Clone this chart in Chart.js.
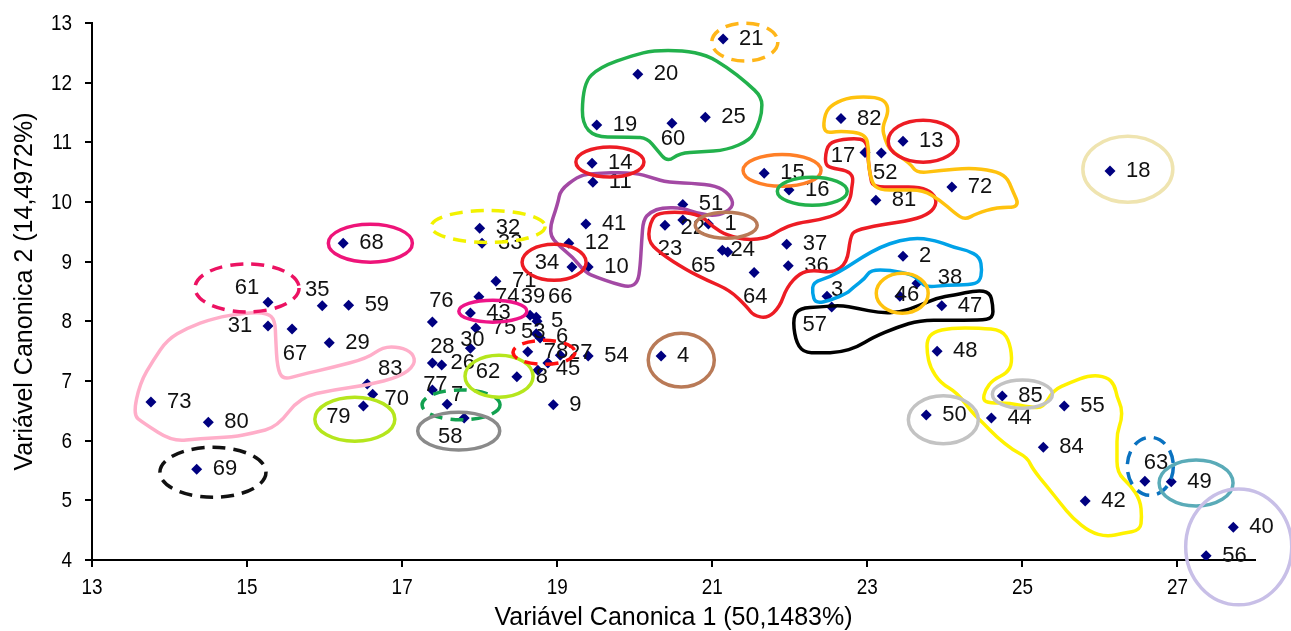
<!DOCTYPE html>
<html>
<head>
<meta charset="utf-8">
<script src="https://cdn.jsdelivr.net/npm/chart.js@4.4.1/dist/chart.umd.min.js"></script>
<style>
  html, body { margin: 0; padding: 0; background: #ffffff; }
  #wrap { width: 1291px; height: 631px; }
</style>
</head>
<body>
<div id="wrap"><canvas id="chart" width="1291" height="631"></canvas></div>
<script>
// Genotype numbers and their scores on the first two canonical variables
const ids = [1,2,3,4,5,6,7,8,9,10,11,12,13,14,15,16,17,18,19,20,21,22,23,24,25,26,27,28,29,30,
  31,32,33,34,35,36,37,38,39,40,41,42,43,44,45,46,47,48,49,50,51,52,53,54,55,56,57,58,59,60,
  61,62,63,64,65,66,67,68,69,70,71,72,73,74,75,76,77,78,79,80,81,82,83,84,85];
const canon1 = [20.95,23.46,22.48,20.34,18.74,18.78,17.58,18.75,18.95,19.40,
  19.46,19.15,23.46,19.45,21.67,21.99,22.97,26.13,19.51,20.04,
  21.14,20.62,20.39,21.20,20.91,17.51,19.04,17.39,16.06,17.88,
  15.27,18.00,18.03,19.19,15.97,21.98,21.96,23.64,18.65,27.72,
  19.37,25.81,17.88,24.60,18.88,23.42,23.96,23.90,26.92,23.76,
  20.62,23.18,18.73,19.40,25.54,27.37,22.54,17.80,16.31,20.48,
  15.27,18.48,26.58,21.54,21.13,18.73,15.58,16.24,14.35,16.62,
  18.21,24.09,13.76,17.99,17.95,17.39,17.39,18.62,16.50,14.50,
  23.11,22.66,16.55,25.27,24.74];
const canon2 = [9.63,9.09,8.42,7.42,8.00,7.72,6.61,7.18,6.60,8.91,
  10.33,9.31,11.02,10.65,10.48,10.20,10.83,10.52,11.29,12.14,
  12.73,9.70,9.61,9.16,11.42,7.27,7.43,7.30,7.64,7.55,
  7.92,9.56,9.31,8.91,8.26,8.93,9.29,8.64,8.10,4.55,
  9.63,4.99,8.14,6.38,7.30,8.42,8.26,7.50,5.31,6.43,
  9.96,10.82,7.79,7.42,6.58,4.07,8.24,6.38,8.27,11.32,
  8.32,7.07,5.32,8.82,9.19,8.07,7.87,9.31,5.52,6.78,
  8.67,10.25,6.65,8.41,7.89,7.99,6.85,7.49,6.58,6.31,
  10.03,11.40,6.95,5.89,6.75];

const xTicks = [13, 15, 17, 19, 21, 23, 25, 27];
const yTicks = [4, 5, 6, 7, 8, 9, 10, 11, 12, 13];
const xTitle = 'Variável Canonica 1 (50,1483%)';
const yTitle = 'Variável Canonica 2 (14,4972%)';

// Labels that sit away from the usual spot right of the marker: centre offset in px
const labelShift = {
  61:[-21,-14], 35:[-5,-16], 31:[-28,0], 67:[3,25], 83:[23,-15], 70:[24,5], 79:[-25,11],
  76:[9,-21], 34:[-25,-4], 60:[1,16], 22:[10,8], 23:[5,24], 65:[-19,16], 24:[15,-2],
  64:[1,25], 17:[-22,3], 52:[4,20], 3:[10,-6], 57:[-17,18], 46:[7,-1], 38:[33,-5],
  63:[11,-18], 39:[3,-18], 66:[24,-20], 5:[20,0], 53:[-3,-2], 6:[22,-1],
  28:[10,-16], 30:[2,-8], 26:[21,-2], 77:[3,-5], 7:[10,-9], 58:[-14,19], 62:[-29,-5],
  8:[4,7], 45:[20,6], 27:[20,-2]
};

// Grouping outlines, in axis units: ellipses [cx, cy, rx, ry]
const groupEllipses = [
  { c:[18.11,9.59,0.735,0.268], color:'#f2f200', dash:true },   // 32
  { c:[16.59,9.31,0.542,0.318], color:'#ee1479' },             // 68
  { c:[15.00,8.56,0.671,0.402], color:'#ec1262', dash:true },   // 61
  { c:[14.56,5.47,0.684,0.419], color:'#111111', dash:true },   // 69
  { c:[16.39,6.36,0.516,0.369], color:'#b5e61d' },             // 79
  { c:[17.76,6.60,0.503,0.251], color:'#12a150', dash:true },   // 7
  { c:[17.73,6.16,0.529,0.318], color:'#8a8a8a' },             // 58
  { c:[18.25,7.08,0.439,0.352], color:'#b5e61d' },             // 62
  { c:[18.17,8.17,0.439,0.184], color:'#ee1488' },             // 43
  { c:[18.96,8.99,0.413,0.302], color:'#ed1c24' },             // 34
  { c:[18.83,7.48,0.400,0.201], color:'#ff1010', dash:true },   // 78
  { c:[20.60,7.35,0.426,0.452], color:'#b97a57' },             // 4
  { c:[21.42,12.68,0.426,0.318], color:'#ffb619', dash:true },  // 21
  { c:[19.68,10.67,0.439,0.251], color:'#ed1c24' },            // 14
  { c:[21.18,9.61,0.400,0.218], color:'#b97a57' },             // 1
  { c:[21.90,10.53,0.503,0.268], color:'#ff7f27' },            // 15
  { c:[22.29,10.18,0.451,0.235], color:'#22b14c' },            // 16
  { c:[23.72,11.02,0.451,0.352], color:'#ed1c24' },            // 13
  { c:[26.36,10.55,0.580,0.553], color:'#efe4b0' },            // 18
  { c:[23.45,8.47,0.335,0.335], color:'#ffc20e' },             // 46
  { c:[25.00,6.78,0.387,0.235], color:'#c3c3c3' },             // 85
  { c:[23.98,6.35,0.451,0.402], color:'#c3c3c3' },             // 50
  { c:[26.65,5.57,0.297,0.486], color:'#0a72c0', dash:true },   // 63
  { c:[27.24,5.29,0.477,0.385], color:'#5aabb8' },             // 49
  { c:[27.79,4.22,0.684,0.972], color:'#c8bfe7' }              // 40, 56
];

// Free-hand outlines, in axis units
const pinkOutline = [[15.00,8.15],[14.56,8.05],[14.23,7.89],[13.97,7.69],[13.79,7.35],[13.62,6.97],
  [13.53,6.43],[13.66,6.30],[14.04,5.98],[14.39,6.04],[14.82,6.06],[15.08,6.13],[15.39,6.23],
  [15.68,6.73],[16.11,6.85],[16.55,6.93],[16.97,7.07],[17.17,7.27],[17.14,7.47],[16.97,7.57],
  [16.75,7.57],[16.55,7.38],[16.11,7.23],[15.68,7.10],[15.46,7.02],[15.39,7.23],[15.37,7.69],
  [15.36,8.02],[15.26,8.14]];
const greenOutline = [[19.32,11.09],[19.33,11.99],[19.55,12.26],[19.98,12.46],[20.24,12.54],
  [20.62,12.54],[20.93,12.46],[21.19,12.26],[21.45,11.99],[21.64,11.76],[21.64,11.49],
  [21.58,11.25],[21.49,11.04],[21.19,10.87],[20.84,10.84],[20.58,10.82],[20.42,10.67],
  [20.29,10.87],[20.16,11.07],[19.98,11.09]];
const purpleOutline = [[18.88,9.48],[19.01,9.98],[19.04,10.20],[19.26,10.42],[19.42,10.48],
  [19.98,10.50],[20.24,10.40],[20.42,10.33],[20.84,10.31],[21.10,10.25],[21.25,10.08],
  [21.27,9.90],[21.06,9.76],[20.80,9.81],[20.62,9.90],[20.36,9.91],[20.20,9.83],[20.11,9.70],
  [20.09,9.36],[20.07,8.91],[20.04,8.66],[19.94,8.57],[19.72,8.64],[19.51,8.74],[19.36,8.82],
  [19.20,9.08],[19.04,9.24]];
const redOutline = [[20.16,9.36],[20.22,9.75],[20.36,9.83],[20.67,9.83],[20.88,9.75],[21.01,9.58],
  [21.19,9.44],[21.45,9.36],[21.71,9.40],[21.87,9.53],[22.09,9.65],[22.39,9.70],[22.65,9.81],
  [22.78,10.03],[22.80,10.25],[22.82,10.42],[22.74,10.53],[22.52,10.57],[22.45,10.65],
  [22.48,10.95],[22.61,11.04],[22.91,11.07],[23.00,10.98],[23.01,10.70],[23.04,10.42],
  [23.07,10.25],[23.38,10.25],[23.68,10.25],[23.85,10.15],[23.90,9.98],[23.81,9.81],
  [23.59,9.70],[23.16,9.61],[22.84,9.53],[22.78,9.41],[22.74,8.98],[22.56,8.81],[22.30,8.86],
  [22.13,8.81],[21.96,8.57],[21.87,8.24],[21.71,8.05],[21.53,8.10],[21.45,8.24],[21.23,8.52],
  [20.93,8.69],[20.67,8.86],[20.33,9.14]];
const goldOutline = [[22.43,11.15],[22.45,11.49],[22.56,11.65],[22.78,11.76],[23.12,11.76],
  [23.25,11.67],[23.27,11.49],[23.19,11.25],[23.23,11.04],[23.29,10.87],[23.55,10.65],
  [23.64,10.48],[23.94,10.53],[24.32,10.57],[24.62,10.53],[24.80,10.42],[24.87,10.20],
  [24.97,9.91],[24.67,9.91],[24.41,9.81],[24.26,9.70],[24.13,9.81],[23.94,10.03],[23.72,10.20],
  [23.42,10.20],[23.16,10.20],[23.06,10.31],[23.01,10.65],[23.02,10.87],[22.98,11.15],
  [22.65,11.19]];
const blueOutline = [[22.30,8.66],[22.52,8.74],[22.74,8.91],[22.94,9.08],[23.16,9.24],[23.42,9.36],
  [23.68,9.40],[23.94,9.33],[24.11,9.24],[24.29,9.19],[24.45,9.08],[24.48,8.86],[24.45,8.66],
  [24.32,8.61],[24.03,8.61],[23.77,8.57],[23.68,8.66],[23.59,8.78],[23.29,8.86],[23.04,8.86],
  [22.97,8.72],[22.82,8.57],[22.74,8.47],[22.52,8.35],[22.33,8.30],[22.29,8.47]];
const blackOutline = [[22.04,8.07],[22.13,8.22],[22.39,8.24],[22.65,8.27],[22.87,8.22],[23.16,8.14],
  [23.42,8.15],[23.68,8.27],[23.90,8.39],[24.11,8.44],[24.41,8.52],[24.58,8.49],[24.62,8.27],
  [24.62,8.05],[24.45,8.02],[24.03,8.02],[23.68,8.02],[23.38,7.90],[23.07,7.73],[22.87,7.57],
  [22.65,7.48],[22.39,7.47],[22.17,7.48],[22.07,7.69]];
const yellowOutline = [[23.77,7.69],[23.85,7.82],[24.07,7.89],[24.45,7.89],[24.74,7.85],[24.84,7.64],
  [24.87,7.30],[24.80,7.13],[24.62,7.02],[24.52,6.85],[24.49,6.68],[24.58,6.63],[24.84,6.63],
  [25.10,6.56],[25.27,6.55],[25.40,6.85],[25.61,6.97],[25.87,7.10],[26.09,7.07],[26.19,6.93],
  [26.22,6.73],[26.28,6.56],[26.28,6.35],[26.22,6.13],[26.22,5.84],[26.22,5.46],[26.39,5.26],
  [26.52,5.00],[26.54,4.72],[26.52,4.50],[26.30,4.45],[26.09,4.39],[25.87,4.47],[25.65,4.70],
  [25.49,4.95],[25.32,5.23],[25.14,5.51],[25.06,5.72],[24.88,5.84],[24.67,6.06],[24.49,6.30],
  [24.36,6.46],[24.16,6.80],[23.94,6.97],[23.81,7.23],[23.77,7.47]];

const groupOutlines = [
  { pts: pinkOutline,   color:'#ffaec9' },
  { pts: greenOutline,  color:'#22b14c' },
  { pts: purpleOutline, color:'#a349a4' },
  { pts: redOutline,    color:'#ed1c24' },
  { pts: goldOutline,   color:'#ffc20e' },
  { pts: blueOutline,   color:'#00a2e8' },
  { pts: blackOutline,  color:'#000000' },
  { pts: yellowOutline, color:'#fff200' }
];

const FONT = "'Liberation Sans', Arial, sans-serif";

// Tick numbers: slightly condensed digits, drawn from the scales' own ticks
const tickText = {
  id: 'tickText',
  afterDraw(chart) {
    const ctx = chart.ctx;
    const sx = chart.scales.x, sy = chart.scales.y;
    ctx.save();
    ctx.font = '22px ' + FONT;
    ctx.fillStyle = '#000';
    ctx.textBaseline = 'middle';
    const squeeze = 0.86;
    sx.ticks.forEach(t => {
      const px = sx.getPixelForValue(t.value);
      ctx.save();
      ctx.translate(px, sx.top + 28);
      ctx.scale(squeeze, 1);
      ctx.textAlign = 'center';
      ctx.fillText(String(t.value), 0, 0);
      ctx.restore();
    });
    sy.ticks.forEach(t => {
      const py = sy.getPixelForValue(t.value);
      ctx.save();
      ctx.translate(sy.right - 20, py + 1);
      ctx.scale(squeeze, 1);
      ctx.textAlign = 'right';
      ctx.fillText(String(t.value), 0, 0);
      ctx.restore();
    });
    ctx.restore();
  }
};

// Number beside each marker
const pointLabels = {
  id: 'pointLabels',
  afterDatasetsDraw(chart) {
    const ctx = chart.ctx;
    const meta = chart.getDatasetMeta(0);
    ctx.save();
    ctx.font = '22px ' + FONT;
    ctx.fillStyle = '#111111';
    ctx.textBaseline = 'middle';
    meta.data.forEach((el, i) => {
      const id = ids[i];
      const s = labelShift[id];
      if (s) {
        ctx.textAlign = 'center';
        ctx.fillText(String(id), el.x + s[0], el.y + s[1]);
      } else {
        ctx.textAlign = 'left';
        ctx.fillText(String(id), el.x + 16, el.y);
      }
    });
    ctx.restore();
  }
};

// Group outlines drawn over the plot
function smoothClosed(ctx, p) {
  const n = p.length;
  const mid = (a, b) => [(a[0] + b[0]) / 2, (a[1] + b[1]) / 2];
  const start = mid(p[n - 1], p[0]);
  ctx.moveTo(start[0], start[1]);
  for (let i = 0; i < n; i++) {
    const m = mid(p[i], p[(i + 1) % n]);
    ctx.quadraticCurveTo(p[i][0], p[i][1], m[0], m[1]);
  }
  ctx.closePath();
}

const groupMarks = {
  id: 'groupMarks',
  afterDraw(chart) {
    const ctx = chart.ctx;
    const sx = chart.scales.x, sy = chart.scales.y;
    const ux = sx.getPixelForValue(1) - sx.getPixelForValue(0);
    const uy = sy.getPixelForValue(0) - sy.getPixelForValue(1);
    ctx.save();
    ctx.lineJoin = 'round';
    ctx.lineCap = 'round';
    groupOutlines.forEach(g => {
      const p = g.pts.map(q => [sx.getPixelForValue(q[0]), sy.getPixelForValue(q[1])]);
      ctx.beginPath();
      smoothClosed(ctx, p);
      ctx.strokeStyle = g.color;
      ctx.lineWidth = 3.5;
      ctx.setLineDash([]);
      ctx.stroke();
    });
    groupEllipses.forEach(e => {
      const [cx, cy, rx, ry] = e.c;
      ctx.beginPath();
      ctx.ellipse(sx.getPixelForValue(cx), sy.getPixelForValue(cy), rx * ux, ry * uy, 0, 0, Math.PI * 2);
      ctx.strokeStyle = e.color;
      ctx.lineWidth = 3.5;
      ctx.lineCap = e.dash ? 'butt' : 'round';
      ctx.setLineDash(e.dash ? [13, 8] : []);
      ctx.stroke();
    });
    ctx.restore();
  }
};

new Chart(document.getElementById('chart'), {
  type: 'scatter',
  data: {
    datasets: [{
      data: ids.map((id, i) => ({ x: canon1[i], y: canon2[i] })),
      pointStyle: 'rectRot',
      pointRadius: 5.5,
      backgroundColor: '#000080',
      borderColor: '#000080',
      borderWidth: 0
    }]
  },
  options: {
    responsive: false,
    animation: false,
    events: [],
    layout: { padding: { left: 0, right: 36, top: 23, bottom: 0 } },
    plugins: { legend: { display: false }, tooltip: { enabled: false } },
    scales: {
      x: {
        type: 'linear', min: 13, max: 28,
        afterBuildTicks: s => { s.ticks = xTicks.map(v => ({ value: v })); },
        afterFit: s => { s.height = 71; },
        grid: { drawOnChartArea: false, drawTicks: true, tickLength: 7, color: '#000', lineWidth: 2 },
        border: { display: true, color: '#000', width: 2 },
        ticks: { display: false },
        title: { display: true, text: xTitle, color: '#000', font: { family: FONT, size: 25, lineHeight: 1 }, padding: { top: 0, bottom: 0 } }
      },
      y: {
        type: 'linear', min: 4, max: 13,
        afterBuildTicks: s => { s.ticks = yTicks.map(v => ({ value: v })); },
        afterFit: s => { s.width = 92; },
        grid: { drawOnChartArea: false, drawTicks: true, tickLength: 7, color: '#000', lineWidth: 2 },
        border: { display: true, color: '#000', width: 2 },
        ticks: { display: false },
        title: { display: true, text: yTitle, color: '#000', font: { family: FONT, size: 25, lineHeight: 1 }, padding: { top: 13, bottom: 0 } }
      }
    }
  },
  plugins: [tickText, pointLabels, groupMarks]
});
</script>
</body>
</html>
